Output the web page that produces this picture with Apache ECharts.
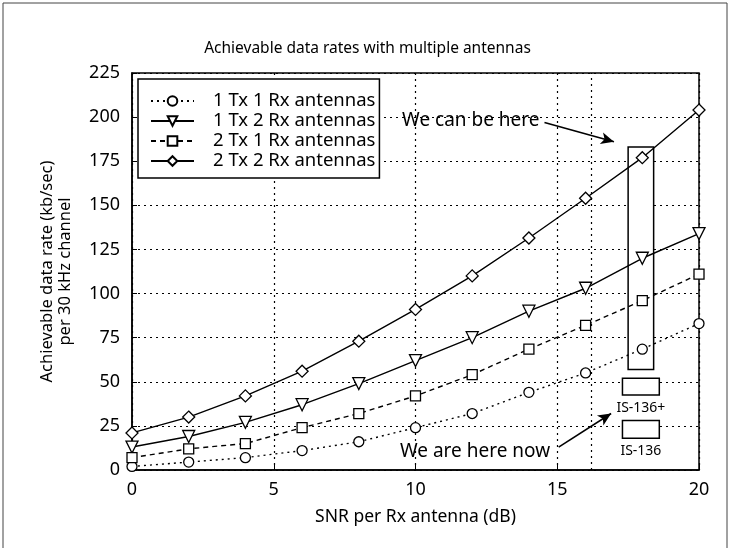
<!DOCTYPE html>
<html>
<head>
<meta charset="utf-8">
<script src="https://cdn.jsdelivr.net/npm/echarts@6/dist/echarts.min.js"></script>
<style>html,body{margin:0;padding:0;background:#fff}#c{width:735px;height:548px}</style>
</head>
<body>
<div id="c"></div>
<script>
var snr = [0, 2, 4, 6, 8, 10, 12, 14, 16, 18, 20];
var tx1rx1 = [2, 4.5, 7, 11, 16, 24, 32, 44, 55, 68.5, 83];
var tx1rx2 = [13, 19, 27, 37, 49, 62, 75, 90, 103, 120, 134];
var tx2rx1 = [7, 12, 15, 24, 32, 42, 54, 68.5, 82, 96, 111];
var tx2rx2 = [21, 30, 42, 56, 73, 91, 110, 131.5, 154, 177, 204];
var seriesNames = ['1 Tx 1 Rx antennas', '1 Tx 2 Rx antennas', '2 Tx 1 Rx antennas', '2 Tx 2 Rx antennas'];
var yTicks = [0, 25, 50, 75, 100, 125, 150, 175, 200, 225];
var xTicks = [0, 5, 10, 15, 20];

var FONT = 'Noto Sans';
function pairs(ys) { return snr.map(function (x, i) { return [x, ys[i]]; }); }
var triDown = 'path://M0,0L10,0L5,8.66Z';

function mkSeries(name, ys, symbol, lineType, size) {
  return {
    name: name, type: 'line', data: pairs(ys), z: 3,
    symbol: symbol, symbolSize: size, showAllSymbol: true,
    lineStyle: { color: '#000', width: 1.4, type: lineType },
    itemStyle: { color: '#fff', borderColor: '#000', borderWidth: 1.3 },
    emphasis: { disabled: true }, animation: false
  };
}

var chart = echarts.init(document.getElementById('c'));
chart.setOption({
  animation: false,
  backgroundColor: '#fff',
  title: {
    text: 'Achievable data rates with multiple antennas', left: 'center', top: 36,
    textStyle: { fontFamily: FONT, fontSize: 15.5, fontWeight: 'normal', color: '#000' }
  },
  graphic: [{ type: 'rect', shape: { x: 3, y: 3, width: 724, height: 560 }, style: { fill: 'none', stroke: '#444', lineWidth: 1 }, silent: true }],
  legend: {
    orient: 'vertical', left: 138, top: 79, padding: [12, 4, 7, 12],
    itemWidth: 43, itemHeight: 12, itemGap: 0,
    backgroundColor: '#fff', borderColor: '#000', borderWidth: 1.5,
    data: seriesNames,
    textStyle: { fontFamily: FONT, fontSize: 18.5, lineHeight: 20, color: '#000', padding: [0, 0, 0, 14] }
  },
  grid: { left: 132, right: 36, top: 73, bottom: 78, show: true, borderColor: '#000', borderWidth: 1.5, backgroundColor: 'transparent' },
  xAxis: {
    type: 'value', min: 0, max: 20, interval: 5,
    name: 'SNR per Rx antenna (dB)', nameLocation: 'middle', nameGap: 38,
    nameTextStyle: { fontFamily: FONT, fontSize: 17.5, color: '#000' },
    axisLine: { show: true, lineStyle: { color: '#000', width: 1.5 } },
    axisTick: { show: true, inside: true, length: 5, lineStyle: { color: '#000' } },
    axisLabel: { fontFamily: FONT, fontSize: 18, color: '#000', margin: 11 },
    splitLine: { show: true, lineStyle: { color: '#000', width: 1.2, type: [2, 4] } }
  },
  yAxis: {
    type: 'value', min: 0, max: 225, interval: 25,
    name: 'Achievable data rate (kb/sec)\nper 30 kHz channel', nameLocation: 'middle', nameGap: 58, nameRotate: 90,
    nameTextStyle: { fontFamily: FONT, fontSize: 16.5, color: '#000', lineHeight: 18 },
    axisLine: { show: true, lineStyle: { color: '#000', width: 1.5 } },
    axisTick: { show: true, inside: true, length: 5, lineStyle: { color: '#000' } },
    axisLabel: { fontFamily: FONT, fontSize: 18, color: '#000', margin: 12 },
    splitLine: { show: true, lineStyle: { color: '#000', width: 1.2, type: [2, 4] } }
  },
  series: [
    {
      type: 'line', data: [], z: 1, silent: true,
      markLine: {
        silent: true, symbol: 'none', label: { show: false },
        lineStyle: { color: '#000', width: 1.2, type: [2, 4] },
        data: [{ xAxis: 16.2 }]
      }
    },
    {
      type: 'line', data: [], z: 1, silent: true,
      markArea: {
        silent: true,
        itemStyle: { color: '#fff', borderColor: '#000', borderWidth: 1.5 },
        label: { show: false },
        data: [
          [{ coord: [17.5, 183] }, { coord: [18.4, 57] }],
          [{ coord: [17.3, 52] }, { coord: [18.6, 42.5] }],
          [{ coord: [17.3, 28] }, { coord: [18.6, 18] }]
        ]
      },
      markLine: {
        silent: true, symbol: ['none', 'arrow'], symbolSize: [9, 13],
        label: { show: false },
        lineStyle: { color: '#000', width: 1.6, type: 'solid' },
        data: [
          [{ coord: [14.55, 197] }, { coord: [17.0, 186] }],
          [{ coord: [15.05, 13] }, { coord: [16.9, 32] }]
        ]
      },
      markPoint: {
        silent: true, symbol: 'circle', symbolSize: 1,
        itemStyle: { color: 'rgba(0,0,0,0)' },
        label: { show: true, position: 'inside', color: '#000', fontFamily: FONT, fontSize: 19 },
        data: [
          { coord: [11.95, 198], label: { formatter: 'We can be here' } },
          { coord: [12.1, 10.5], label: { formatter: 'We are here now' } },
          { coord: [17.95, 35], label: { formatter: 'IS-136+', fontSize: 14 } },
          { coord: [17.95, 11], label: { formatter: 'IS-136', fontSize: 14 } }
        ]
      }
    },
    mkSeries(seriesNames[0], tx1rx1, 'circle', [2, 4], 10),
    mkSeries(seriesNames[1], tx1rx2, triDown, 'solid', 12),
    mkSeries(seriesNames[2], tx2rx1, 'rect', [5, 4], 10),
    mkSeries(seriesNames[3], tx2rx2, 'diamond', 'solid', 12)
  ]
});
</script>
</body>
</html>
